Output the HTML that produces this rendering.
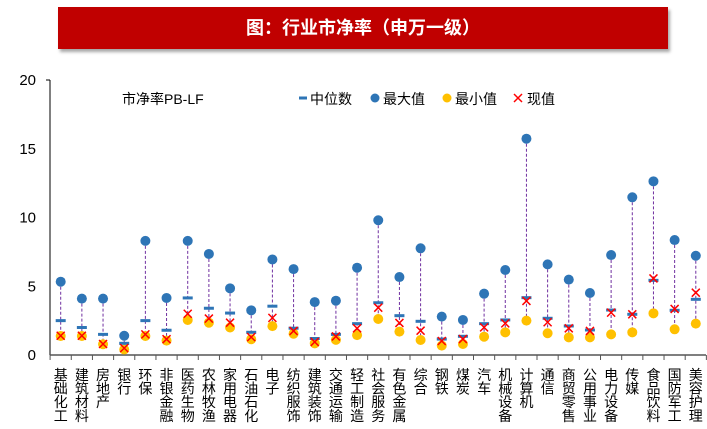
<!DOCTYPE html>
<html><head><meta charset="utf-8"><style>
body{margin:0;background:#fff;width:707px;height:429px;overflow:hidden;font-family:"Liberation Sans","Noto Sans CJK SC",sans-serif;}
#banner{position:absolute;left:58px;top:7px;width:610px;height:42px;background:#c00000;box-shadow:2px 3px 3px rgba(0,0,0,.35);color:#fff;font-weight:bold;font-size:18px;text-align:center;line-height:42px;}
svg{position:absolute;left:0;top:0;}
</style></head><body>
<div id="banner">图：行业市净率（申万一级）</div>
<svg id="chart" width="707" height="429"></svg>
<script>
const categories=["基础化工","建筑材料","房地产","银行","环保","非银金融","医药生物","农林牧渔","家用电器","石油石化","电子","纺织服饰","建筑装饰","交通运输","轻工制造","社会服务","有色金属","综合","钢铁","煤炭","汽车","机械设备","计算机","通信","商贸零售","公用事业","电力设备","传媒","食品饮料","国防军工","美容护理"];
const maxVals=[5.33,4.1,4.1,1.4,8.3,4.15,8.3,7.35,4.85,3.25,6.95,6.25,3.85,3.95,6.35,9.8,5.67,7.76,2.79,2.55,4.46,6.18,15.73,6.59,5.48,4.51,7.27,11.47,12.63,8.36,7.22];
const medianVals=[2.5,2.0,1.5,0.85,2.5,1.8,4.15,3.4,3.05,1.65,3.55,1.95,1.2,1.5,2.28,3.8,2.86,2.45,1.16,1.36,2.28,2.55,4.17,2.67,2.11,1.82,3.27,2.96,5.43,3.25,4.05];
const minVals=[1.38,1.38,0.78,0.4,1.38,1.05,2.55,2.35,2.0,1.15,2.1,1.55,0.85,1.1,1.45,2.62,1.7,1.09,0.68,0.8,1.33,1.65,2.5,1.58,1.28,1.28,1.5,1.65,3.03,1.87,2.28];
const curVals=[1.4,1.4,0.8,0.5,1.5,1.15,3.0,2.65,2.35,1.3,2.7,1.75,0.95,1.35,1.94,3.44,2.33,1.77,1.02,1.16,2.01,2.3,3.93,2.38,1.94,1.75,3.08,2.96,5.57,3.35,4.53];
const yTicks=[0,5,10,15,20];
const NS='http://www.w3.org/2000/svg';
const svg=document.getElementById('chart');
const x0=50,x1=706,y0=355,y1=80;
const xs=i=>60.7+i*21.17;
const ys=v=>y0-(v/20)*(y0-y1);
function mk(t,a,p){const e=document.createElementNS(NS,t);for(const k in a)e.setAttribute(k,a[k]);(p||svg).appendChild(e);return e;}
let ax=mk('line',{x1:x0,y1:y1,x2:x0,y2:y0,stroke:'#000','stroke-width':1});


mk('line',{x1:x0-4,y1:y1,x2:x0,y2:y1,stroke:'#000'});
let xa=mk('line',{x1:x0,y1:y0,x2:x1,y2:y0,stroke:'#555','stroke-width':1.5});


yTicks.forEach(t=>{
 const tx=mk('text',{x:36,y:ys(t)+5,'text-anchor':'end','font-size':15,fill:'#000'});
 tx.textContent=t;
 
 
});
for(let i=0;i<=categories.length;i++){const tx=xs(i)-10.6;mk('line',{x1:tx,y1:y0,x2:tx,y2:y0+5,stroke:'#555'});}
categories.forEach((c,i)=>{
 const g=mk('g',{});
 
 
 const x=xs(i);
 mk('line',{x1:x,y1:ys(maxVals[i]),x2:x,y2:ys(minVals[i]),stroke:'#7030a0','stroke-width':1,'stroke-dasharray':'3,2'},g);
 const mn=mk('circle',{cx:x,cy:ys(minVals[i]),r:5,fill:'#ffc000'},g);
 
 
 const mx=mk('circle',{cx:x,cy:ys(maxVals[i]),r:5,fill:'#2e75b6'},g);
 
 
 const md=mk('rect',{x:x-5,y:ys(medianVals[i])-1.5,width:10,height:3,fill:'#2e75b6'},g);
 
 
 const cy=ys(curVals[i]);
 const cx=mk('path',{d:`M${x-4},${cy-4}L${x+4},${cy+4}M${x+4},${cy-4}L${x-4},${cy+4}`,stroke:'#ff0000','stroke-width':1.5},g);
 
 
 [...c].forEach((ch,k)=>{
  const t=mk('text',{x:x,y:380+k*13.6,'text-anchor':'middle','font-size':14,fill:'#000'},g);
  t.textContent=ch;
 });
});
function txt(s,x,y,name){const t=mk('text',{x:x,y:y,'font-size':14,fill:'#000'});t.textContent=s;return t;}
txt('市净率PB-LF',122,104,'chart-subtitle');
mk('rect',{x:299,y:96.5,width:8,height:3,fill:'#2e75b6'});
txt('中位数',310,104,'legend-median');
mk('circle',{cx:375,cy:98,r:4.5,fill:'#2e75b6'});
txt('最大值',383,104,'legend-max');
mk('circle',{cx:447,cy:98,r:4.5,fill:'#ffc000'});
txt('最小值',455,104,'legend-min');
mk('path',{d:'M514,94L522,102M522,94L514,102',stroke:'#ff0000','stroke-width':1.5});
txt('现值',527,104,'legend-current');
</script>
</body></html>
